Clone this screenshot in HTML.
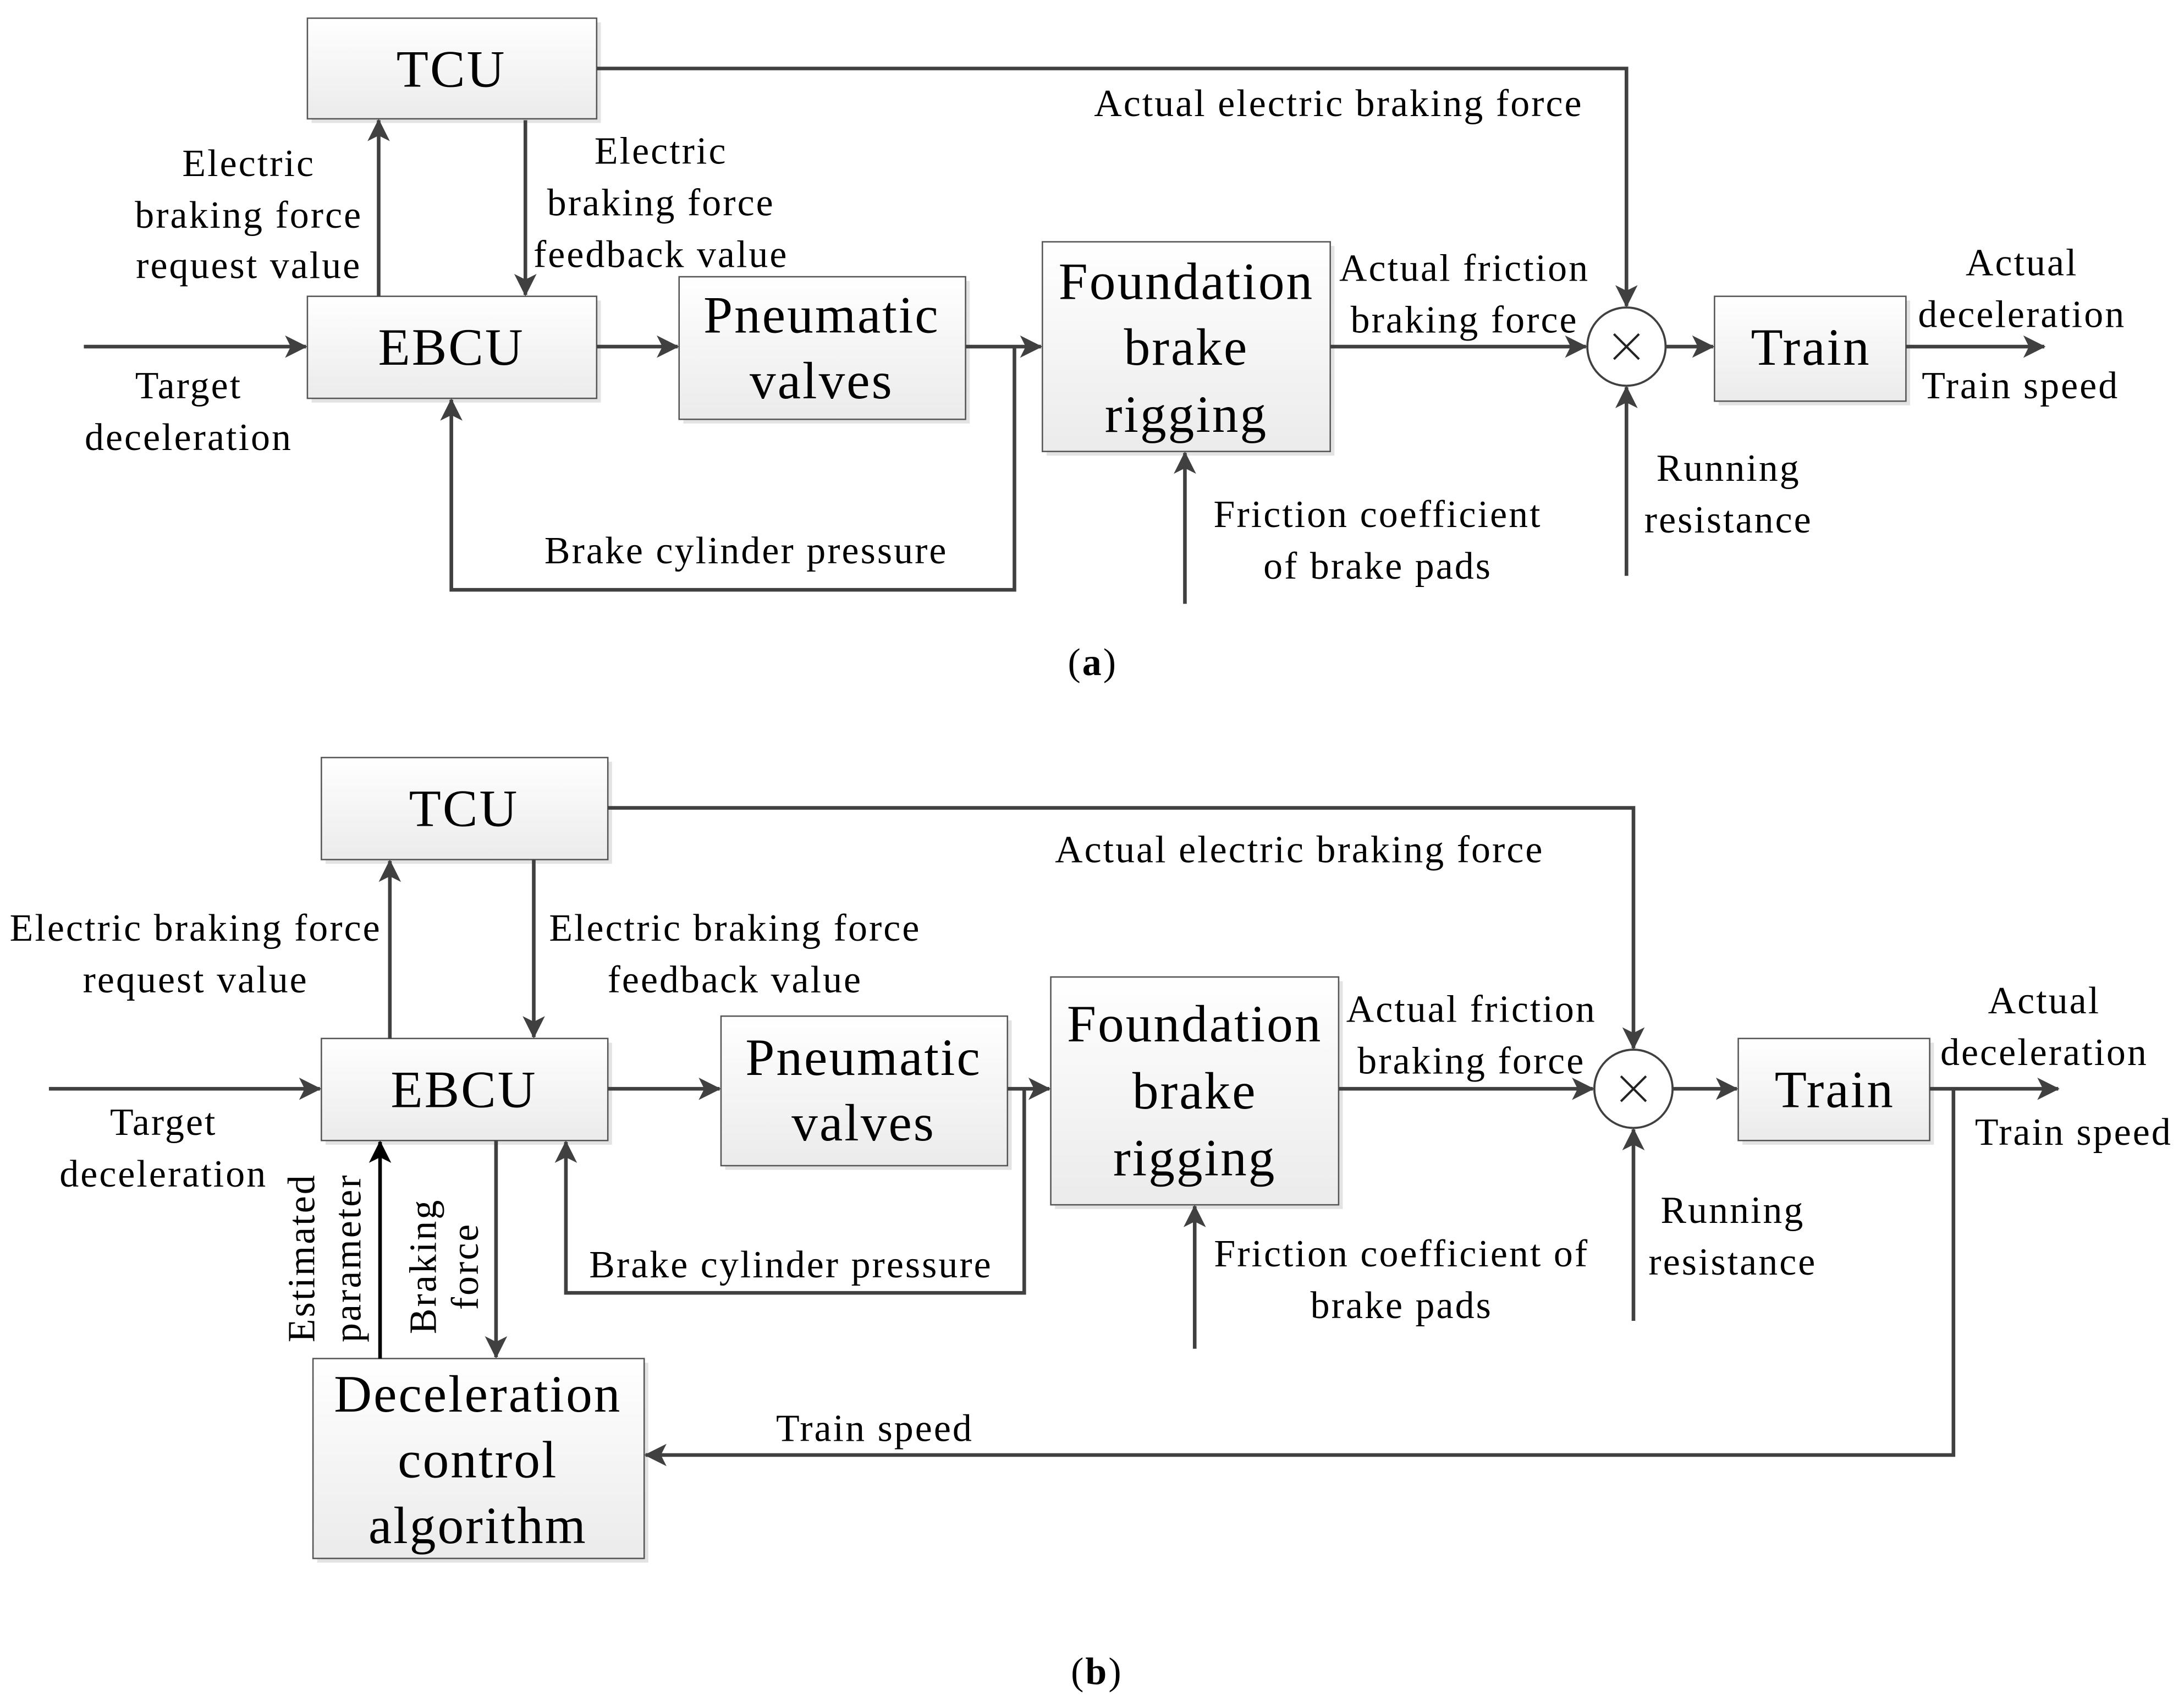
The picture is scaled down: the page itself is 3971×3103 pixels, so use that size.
<!DOCTYPE html>
<html><head><meta charset="utf-8"><style>
html,body{margin:0;padding:0;background:#fff}
svg{display:block}
svg text{font-family:"Liberation Serif","Times New Roman",Times,serif !important;fill:#000}
.l{font-size:27.5px;text-anchor:middle;letter-spacing:1.2px}
.b{font-size:37.5px;text-anchor:middle;letter-spacing:1.2px}
</style></head><body>
<svg width="3971" height="3103" viewBox="0 0 1563 1221.3" preserveAspectRatio="none" xmlns="http://www.w3.org/2000/svg" font-family="Liberation Serif, Times New Roman, serif">
<defs>
<linearGradient id="g" x1="0" y1="0" x2="0" y2="1"><stop offset="0" stop-color="#ffffff"/><stop offset="1" stop-color="#ebebeb"/></linearGradient>
<marker id="a" markerWidth="16" markerHeight="16" refX="15" refY="8" orient="auto" markerUnits="userSpaceOnUse"><path d="M0,0 L16,8 L0,16 L4,8 Z" fill="#404040"/></marker>
<marker id="k" markerWidth="16" markerHeight="16" refX="15" refY="8" orient="auto" markerUnits="userSpaceOnUse"><path d="M0,0 L16,8 L0,16 L4,8 Z" fill="#000"/></marker>
</defs>
<g stroke="#555" stroke-width="1">
<rect x="223" y="16" width="207" height="72" fill="#e3e3e3" stroke="none"/><rect x="220" y="13" width="207" height="72" fill="url(#g)"/>
<rect x="223" y="215" width="207" height="73" fill="#e3e3e3" stroke="none"/><rect x="220" y="212" width="207" height="73" fill="url(#g)"/>
<rect x="489" y="201" width="205" height="102" fill="#e3e3e3" stroke="none"/><rect x="486" y="198" width="205" height="102" fill="url(#g)"/>
<rect x="749" y="176" width="206" height="150" fill="#e3e3e3" stroke="none"/><rect x="746" y="173" width="206" height="150" fill="url(#g)"/>
<rect x="1230" y="215" width="137" height="75" fill="#e3e3e3" stroke="none"/><rect x="1227" y="212" width="137" height="75" fill="url(#g)"/>
<rect x="233" y="545" width="205" height="73" fill="#e3e3e3" stroke="none"/><rect x="230" y="542" width="205" height="73" fill="url(#g)"/>
<rect x="233" y="746" width="205" height="73" fill="#e3e3e3" stroke="none"/><rect x="230" y="743" width="205" height="73" fill="url(#g)"/>
<rect x="519" y="730" width="205" height="107" fill="#e3e3e3" stroke="none"/><rect x="516" y="727" width="205" height="107" fill="url(#g)"/>
<rect x="755" y="702" width="206" height="163" fill="#e3e3e3" stroke="none"/><rect x="752" y="699" width="206" height="163" fill="url(#g)"/>
<rect x="1247" y="746" width="137" height="73" fill="#e3e3e3" stroke="none"/><rect x="1244" y="743" width="137" height="73" fill="url(#g)"/>
<rect x="227" y="975" width="237" height="143" fill="#e3e3e3" stroke="none"/><rect x="224" y="972" width="237" height="143" fill="url(#g)"/>
</g>
<g fill="#fff" stroke="#404040" stroke-width="1.5">
<circle cx="1164" cy="248" r="28"/><circle cx="1169" cy="779" r="28"/>
</g>
<g stroke="#222" stroke-width="1.6">
<path d="M1155,239 L1173,257 M1173,239 L1155,257"/><path d="M1160,770 L1178,788 M1178,770 L1160,788"/>
</g>
<g fill="none" stroke="#404040" stroke-width="2.6" marker-end="url(#a)">
<path d="M271,212 V86"/>
<path d="M376,86 V211"/>
<path d="M60,248 H219"/>
<path d="M427,248 H485"/>
<path d="M691,248 H745"/>
<path d="M726,248 V422 H323 V286"/>
<path d="M952,248 H1135"/>
<path d="M427,49 H1164 V219"/>
<path d="M1164,412 V277"/>
<path d="M848,432 V324"/>
<path d="M1192,248 H1226"/>
<path d="M1364,248 H1463"/>
<path d="M279,743 V616"/>
<path d="M382,615 V742"/>
<path d="M35,779 H229"/>
<path d="M435,779 H515"/>
<path d="M721,779 H751"/>
<path d="M733,779 V925 H405 V817"/>
<path d="M958,779 H1140"/>
<path d="M435,578 H1169 V750"/>
<path d="M1169,945 V808"/>
<path d="M855,965 V863"/>
<path d="M1197,779 H1243"/>
<path d="M1381,779 H1473"/>
<path d="M1398,779 V1041 H462"/>
<path d="M355,816 V971"/>
</g>
<path d="M272,972 V817" fill="none" stroke="#000" stroke-width="2.6" marker-end="url(#k)"/>
<text class="b" x="323" y="62">TCU</text>
<text class="b" x="323" y="261">EBCU</text>
<text class="b" x="588" y="238">Pneumatic</text>
<text class="b" x="588" y="285">valves</text>
<text class="b" x="849" y="214">Foundation</text>
<text class="b" x="849" y="261">brake</text>
<text class="b" x="849" y="309">rigging</text>
<text class="b" x="1296" y="261">Train</text>
<text class="b" x="332" y="591">TCU</text>
<text class="b" x="332" y="792">EBCU</text>
<text class="b" x="618" y="769">Pneumatic</text>
<text class="b" x="618" y="816">valves</text>
<text class="b" x="855" y="745">Foundation</text>
<text class="b" x="855" y="793">brake</text>
<text class="b" x="855" y="841">rigging</text>
<text class="b" x="1313" y="792">Train</text>
<text class="b" x="342" y="1010">Deceleration</text>
<text class="b" x="342" y="1057">control</text>
<text class="b" x="342" y="1104">algorithm</text>
<text class="l" x="178" y="126">Electric</text>
<text class="l" x="178" y="163">braking force</text>
<text class="l" x="178" y="199">request value</text>
<text class="l" x="473" y="117">Electric</text>
<text class="l" x="473" y="154">braking force</text>
<text class="l" x="473" y="191">feedback value</text>
<text class="l" x="135" y="285">Target</text>
<text class="l" x="135" y="322">deceleration</text>
<text class="l" x="534" y="403">Brake cylinder pressure</text>
<text class="l" x="958" y="83">Actual electric braking force</text>
<text class="l" x="1048" y="201">Actual friction</text>
<text class="l" x="1048" y="238">braking force</text>
<text class="l" x="1447" y="197">Actual</text>
<text class="l" x="1447" y="234">deceleration</text>
<text class="l" x="1446" y="285">Train speed</text>
<text class="l" x="1237" y="344">Running</text>
<text class="l" x="1237" y="381">resistance</text>
<text class="l" x="986" y="377">Friction coefficient</text>
<text class="l" x="986" y="414">of brake pads</text>
<text class="l" x="782" y="483">(<tspan font-weight="bold">a</tspan>)</text>
<text class="l" x="140" y="673">Electric braking force</text>
<text class="l" x="140" y="710">request value</text>
<text class="l" x="526" y="673">Electric braking force</text>
<text class="l" x="526" y="710">feedback value</text>
<text class="l" x="117" y="812">Target</text>
<text class="l" x="117" y="849">deceleration</text>
<text class="l" x="566" y="914">Brake cylinder pressure</text>
<text class="l" x="930" y="617">Actual electric braking force</text>
<text class="l" x="1053" y="731">Actual friction</text>
<text class="l" x="1053" y="768">braking force</text>
<text class="l" x="1463" y="725">Actual</text>
<text class="l" x="1463" y="762">deceleration</text>
<text class="l" x="1484" y="819">Train speed</text>
<text class="l" x="1240" y="875">Running</text>
<text class="l" x="1240" y="912">resistance</text>
<text class="l" x="1003" y="906">Friction coefficient of</text>
<text class="l" x="1003" y="943">brake pads</text>
<text class="l" x="626" y="1031">Train speed</text>
<text class="l" transform="translate(225,900) rotate(-90)">Estimated</text>
<text class="l" transform="translate(258,900) rotate(-90)">parameter</text>
<text class="l" transform="translate(312,906) rotate(-90)">Braking</text>
<text class="l" transform="translate(342,906) rotate(-90)">force</text>
<text class="l" x="785" y="1205">(<tspan font-weight="bold">b</tspan>)</text>
</svg>
</body></html>
